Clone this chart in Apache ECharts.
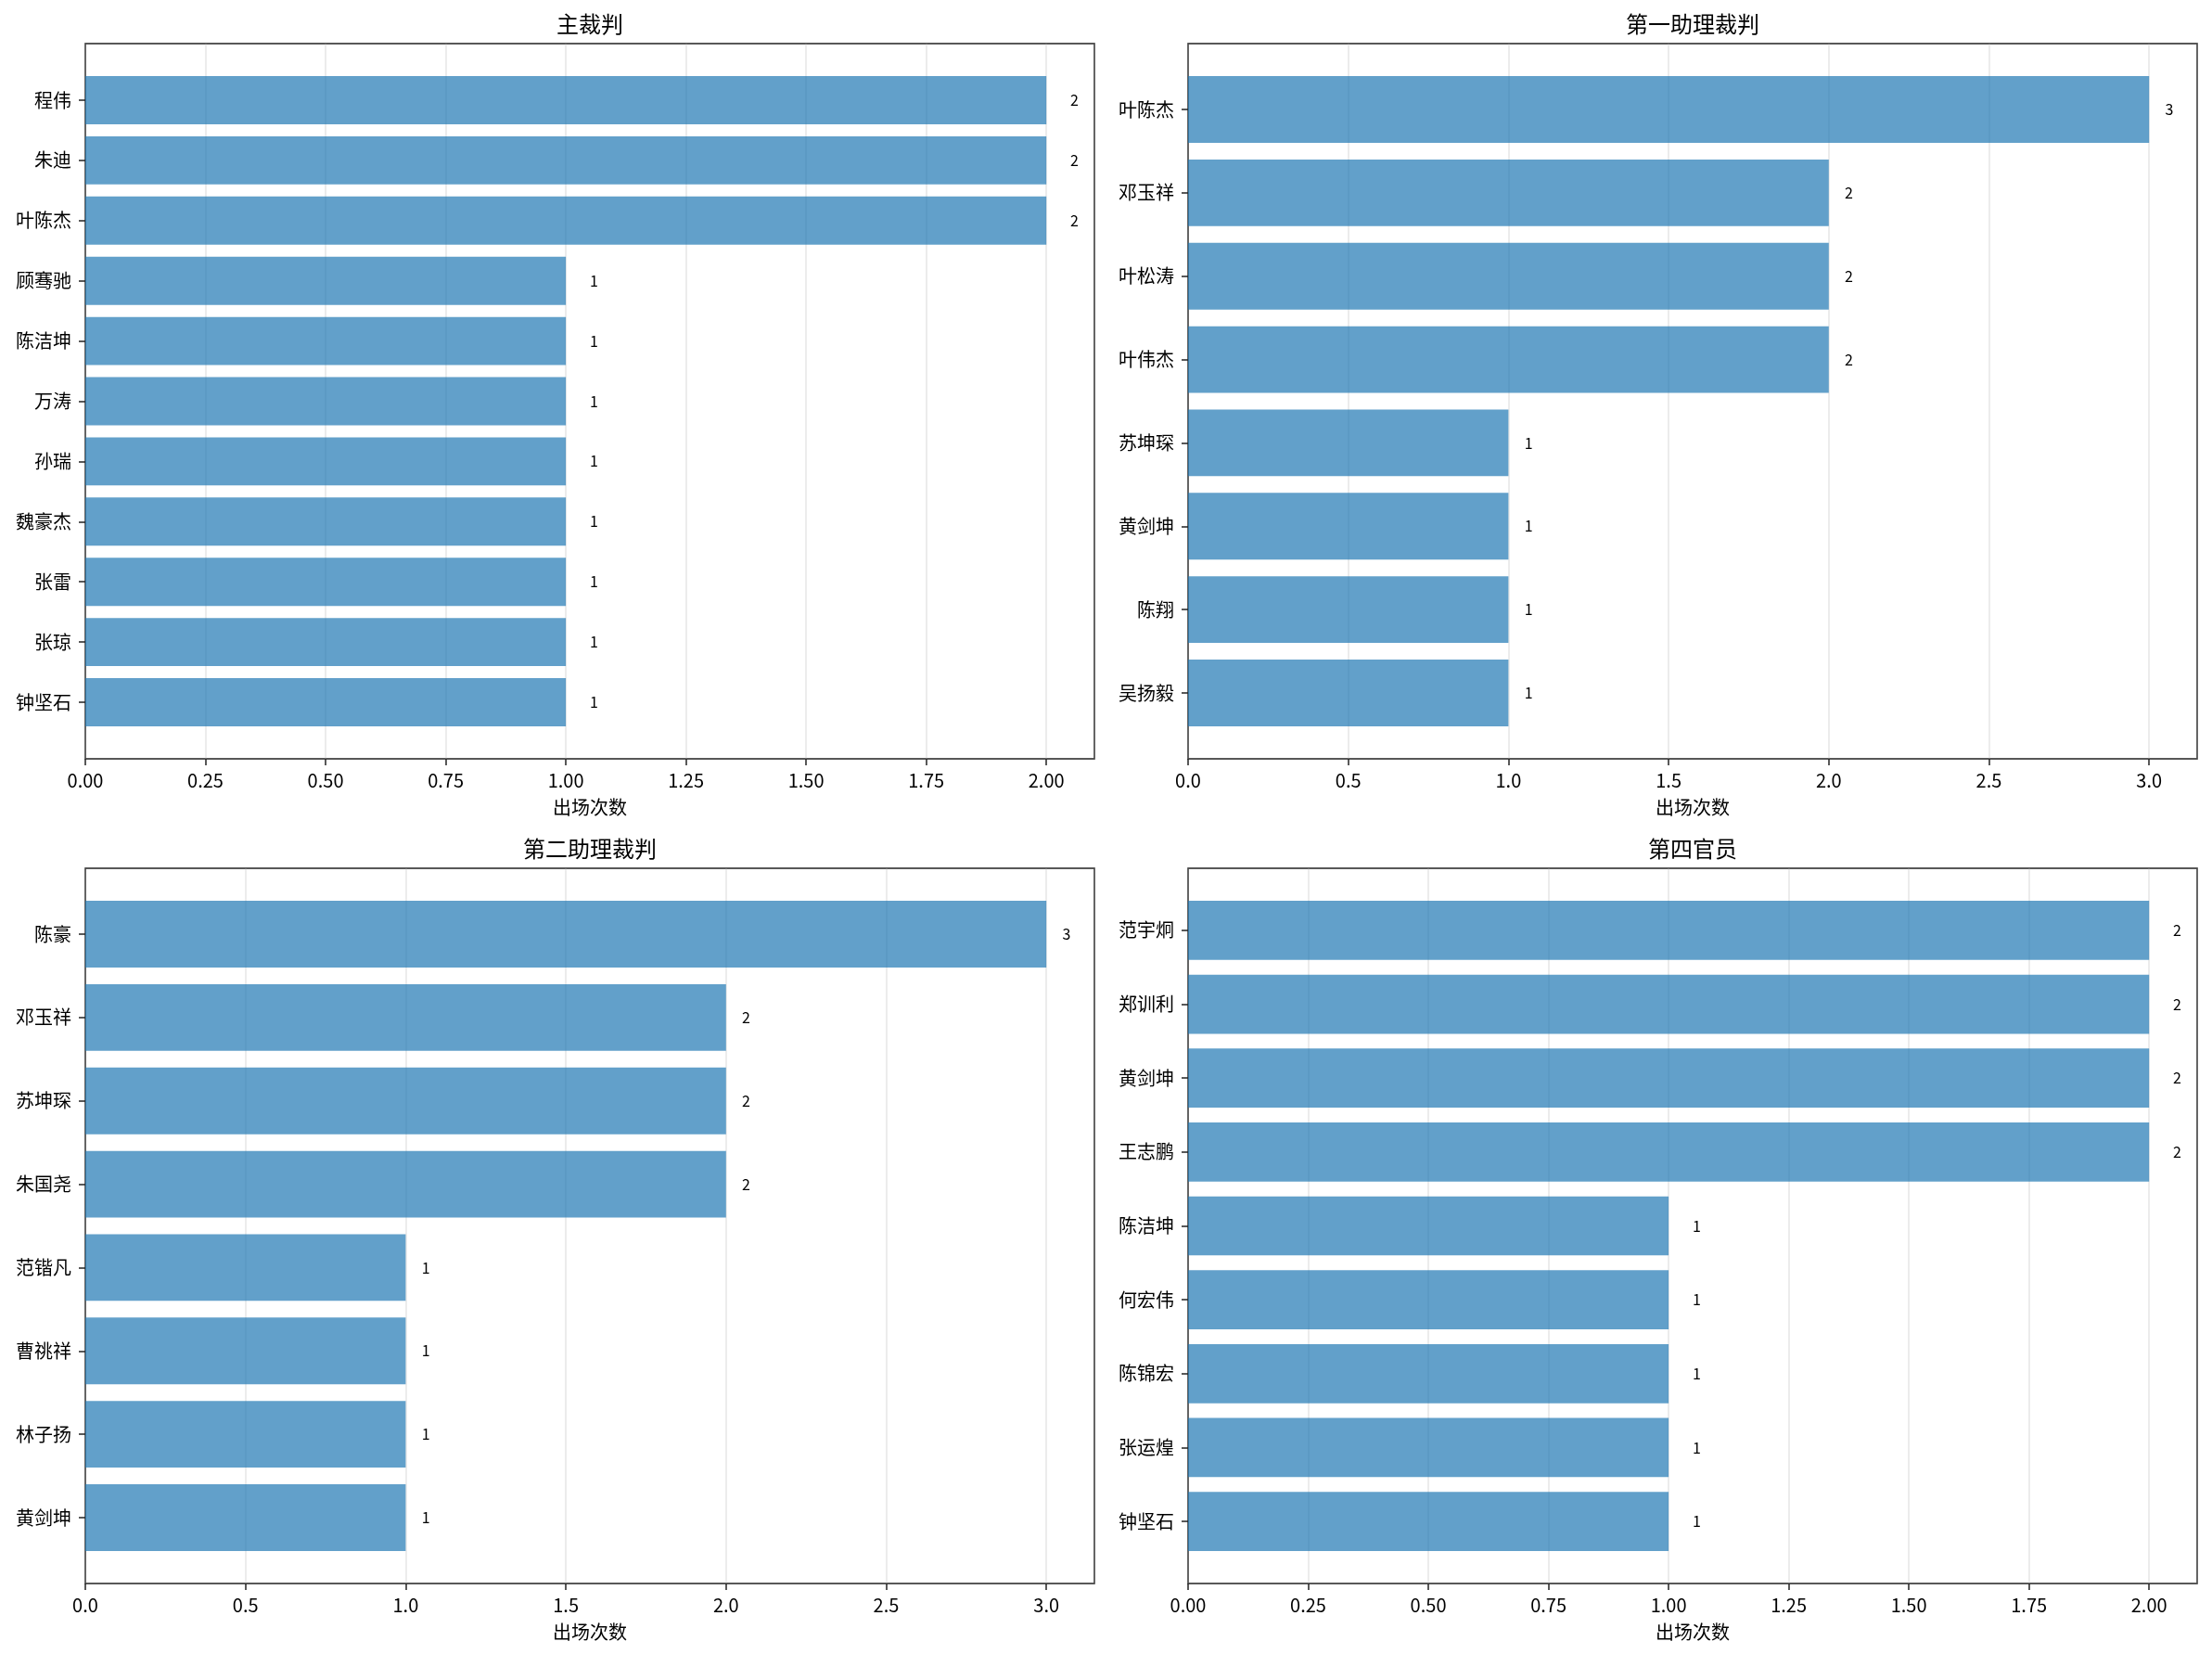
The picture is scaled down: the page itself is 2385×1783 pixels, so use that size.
<!DOCTYPE html>
<html><head><meta charset="utf-8">
<script src="https://cdn.jsdelivr.net/npm/echarts@6/dist/echarts.min.js"></script>
<style>html,body{margin:0;padding:0;background:#fff}#c{width:2385px;height:1783px}</style>
</head><body><div id="c"></div>
<script>
// ---- data ----
const titles = ['主裁判', '第一助理裁判', '第二助理裁判', '第四官员'];
const xAxisName = '出场次数';
const names1 = ['程伟','朱迪','叶陈杰','顾骞驰','陈洁坤','万涛','孙瑞','魏豪杰','张雷','张琼','钟坚石'];
const vals1  = [2,2,2,1,1,1,1,1,1,1,1];
const names2 = ['叶陈杰','邓玉祥','叶松涛','叶伟杰','苏坤琛','黄剑坤','陈翔','吴扬毅'];
const vals2  = [3,2,2,2,1,1,1,1];
const names3 = ['陈豪','邓玉祥','苏坤琛','朱国尧','范锴凡','曹祧祥','林子扬','黄剑坤'];
const vals3  = [3,2,2,2,1,1,1,1];
const names4 = ['范宇炯','郑训利','黄剑坤','王志鹏','陈洁坤','何宏伟','陈锦宏','张运煌','钟坚石'];
const vals4  = [2,2,2,2,1,1,1,1,1];
const tickSteps = [0.25, 0.5, 0.5, 0.25];
const tickDecimals = [2, 1, 1, 2];

// ---- layout ----
const panels = [
  {names: names1, vals: vals1, left: 92,   top: 47},
  {names: names2, vals: vals2, left: 1281, top: 47},
  {names: names3, vals: vals3, left: 92,   top: 936},
  {names: names4, vals: vals4, left: 1281, top: 936}
];
const W = 1088, H = 771;
const FONT = '"Noto Sans CJK SC", "Noto Sans", sans-serif';
const BAR = 'rgba(31,119,180,0.7)';
const AX = '#222';

const grid = [], xAxis = [], yAxis = [], series = [], title = [];
panels.forEach((p, i) => {
  const n = p.names.length;
  const xmax = Math.max(...p.vals) * 1.05;
  const U = 1.1 * (n - 0.2);
  const pu = H / U;
  const innerTop = p.top + (0.05 * (n - 0.2) - 0.1) * pu;
  const outer = grid.length;
  grid.push({left: p.left, top: p.top, width: W, height: H, show: true,
    borderColor: AX, borderWidth: 1.6, backgroundColor: 'transparent', containLabel: false});
  const inner = grid.length;
  grid.push({left: p.left, top: innerTop, width: W, height: n * pu, show: false, containLabel: false});

  const step = tickSteps[i], dec = tickDecimals[i];
  xAxis.push({type: 'value', gridIndex: outer, min: 0, max: xmax, interval: step,
    axisLine: {show: false},
    axisTick: {show: true, length: 7, lineStyle: {color: AX, width: 1.5}},
    axisLabel: {show: true, fontSize: 20, color: '#000', fontFamily: FONT, margin: 13,
      showMaxLabel: false, formatter: v => v.toFixed(dec)},
    splitLine: {show: true, lineStyle: {color: 'rgba(176,176,176,0.3)', width: 1.6}},
    name: xAxisName, nameLocation: 'middle', nameGap: 42,
    nameTextStyle: {fontSize: 20, color: '#000', fontFamily: FONT}});
  yAxis.push({type: 'value', gridIndex: outer, show: false, min: 0, max: 1});

  xAxis.push({type: 'value', gridIndex: inner, min: 0, max: xmax, show: false});
  yAxis.push({type: 'category', gridIndex: inner, data: p.names, inverse: true,
    axisLine: {show: false},
    axisTick: {show: true, alignWithLabel: true, length: 7, lineStyle: {color: AX, width: 1.5}},
    axisLabel: {fontSize: 20, color: '#000', fontFamily: FONT, margin: 15},
    splitLine: {show: false}});

  series.push({type: 'bar', xAxisIndex: xAxis.length - 1, yAxisIndex: yAxis.length - 1,
    data: p.vals, barWidth: '80%', itemStyle: {color: BAR},
    label: {show: true, position: 'right', distance: 0.05 * W / xmax,
      fontSize: 16, color: '#000', fontFamily: FONT},
    silent: true, animation: false});

  title.push({text: titles[i], left: p.left + W / 2, top: p.top - 33, textAlign: 'center', padding: 0,
    textStyle: {fontSize: 24, fontWeight: 'normal', color: '#000', fontFamily: FONT}});
});

const chart = echarts.init(document.getElementById('c'), null, {renderer: 'canvas'});
chart.setOption({backgroundColor: '#fff', animation: false, title, grid, xAxis, yAxis, series});
</script></body></html>
